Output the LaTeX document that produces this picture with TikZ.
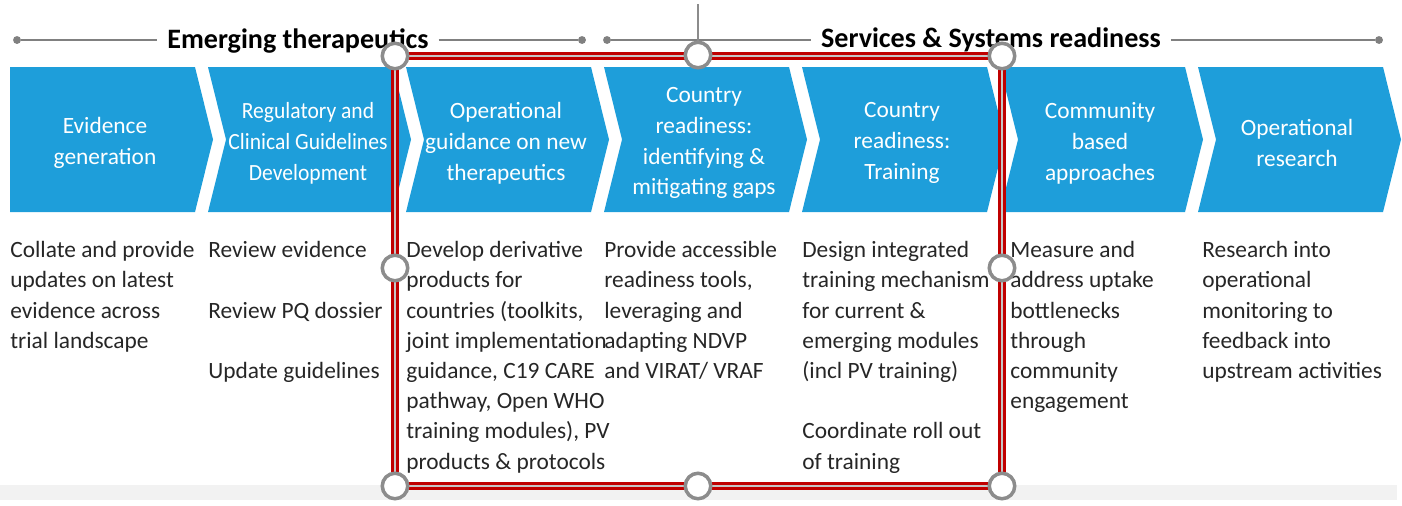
\documentclass[tikz,border=0pt]{standalone}
\usepackage{fontspec}
\setmainfont{Carlito}
\usetikzlibrary{positioning}
\definecolor{chevblue}{RGB}{30,158,218}
\definecolor{selred}{RGB}{192,0,0}
\definecolor{handlegray}{RGB}{140,140,140}
\definecolor{rulegray}{RGB}{128,128,128}
\definecolor{barbg}{RGB}{242,242,242}

\begin{document}
\begin{tikzpicture}[x=0.02cm, y=-0.02cm,
    chevtext/.style={text=white, inner sep=0pt, align=center, font=\fontsize{13.3}{17.6}\selectfont},
    desc/.style={anchor=north west, inner sep=0pt, align=left, font=\fontsize{13.3}{17.2}\selectfont, text=black!85},
    heading/.style={anchor=base, inner sep=5.5pt, font=\fontsize{16}{19}\selectfont\bfseries},
    rule/.style={draw=rulegray, line width=0.8pt},
    enddot/.style={circle, fill=rulegray, inner sep=0pt, minimum size=4.5pt},
    handle/.style={circle, draw=handlegray, line width=2pt, fill=white, minimum size=14.5pt, inner sep=0pt},
    selbox/.style={draw=selred, line width=1.8pt, double=gray!45, double distance=0.7pt}
    ]
    \useasboundingbox (0,0) rectangle (1402,505);
    \fill[barbg] (0,485) rectangle (1397,500);

    % process chevrons
    \fill[chevblue] (10,67) -- (195,67) -- (213,139.5) -- (195,212) -- (10,212) -- cycle;
    \foreach \x in {208,406,604,802,1000,1198}
      \fill[chevblue] (\x,67) -- ++(185,0) -- ++(18,72.5) -- ++(-18,72.5) -- ++(-185,0) -- ++(18,-72.5) -- cycle;

    \node[chevtext] (evid) at (105,143) {Evidence\\generation};
    \node[chevtext, font=\fontsize{13.2}{17.6}\selectfont\addfontfeatures{FakeStretch=0.93}] (regul) at (308,143) {Regulatory and\\Clinical Guidelines\\Development};
    \node[chevtext] (opguid) at (506,143) {Operational\\guidance on new\\therapeutics};
    \node[chevtext] (gaps) at (704,143) {Country\\readiness:\\identifying \&\\mitigating gaps};
    \node[chevtext] (train) at (902,143) {Country\\readiness:\\Training};
    \node[chevtext] (commun) at (1100,143) {Community\\based\\approaches};
    \node[chevtext] (opres) at (1297,143) {Operational\\research};

    % activities under each step
    \node[desc] (evidtxt) at (10,241) {Collate and provide\\updates on latest\\evidence across\\trial landscape};
    \node[desc] (regultxt) at (208,241) {Review evidence\\[17.2pt]Review PQ dossier\\[17.2pt]Update guidelines};
    \node[desc] (opguidtxt) at (406,241) {Develop derivative\\products for\\countries (toolkits,\\joint implementation\\guidance, C19 CARE\\pathway, Open WHO\\training modules), PV\\products \& protocols};
    \node[desc] (gapstxt) at (604,241) {Provide accessible\\readiness tools,\\leveraging and\\adapting NDVP\\and VIRAT/ VRAF};
    \node[desc] (traintxt) at (802,241) {Design integrated\\training mechanism\\for current \&\\emerging modules\\(incl PV training)\\[17.2pt]Coordinate roll out\\of training};
    \node[desc] (communtxt) at (1010,241) {Measure and\\address uptake\\bottlenecks\\through\\community\\engagement};
    \node[desc] (oprestxt) at (1202,241) {Research into\\operational\\monitoring to\\feedback into\\upstream activities};

    % group headings
    \node[heading] (emerg) at (298,48) {Emerging therapeutics};
    \node[heading] (servsys) at (991,47) {Services \& Systems readiness};
    \node[enddot] (emergL) at (17,40) {};
    \node[enddot] (emergR) at (582,40) {};
    \node[enddot] (servL) at (607,40) {};
    \node[enddot] (servR) at (1379,40) {};
    \draw[rule] (emergL) -- (emerg.west |- emergL);
    \draw[rule] (emerg.east |- emergR) -- (emergR);
    \draw[rule] (servL) -- (servsys.west |- servL);
    \draw[rule] (servsys.east |- servR) -- (servR);

    % selection frame
    \coordinate (rot) at (698,4);
    \draw[selbox] (395,56) rectangle (1002,486);
    \node[handle] (hTM) at (698,55) {};
    \draw[draw=handlegray, line width=0.7pt] (rot) -- (hTM);
    \node[handle] (hTL) at (395,56) {};
    \node[handle] (hTR) at (1002,56) {};
    \node[handle] (hML) at (395,268) {};
    \node[handle] (hMR) at (1002,268) {};
    \node[handle] (hBL) at (395,486) {};
    \node[handle] (hBM) at (698,486) {};
    \node[handle] (hBR) at (1002,486) {};
\end{tikzpicture}
\end{document}
